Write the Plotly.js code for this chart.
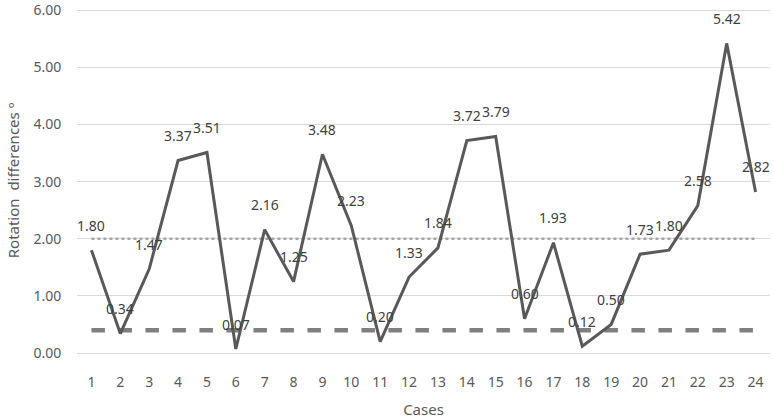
<!DOCTYPE html>
<html><head><meta charset="utf-8">
<script src="https://cdn.plot.ly/plotly-3.0.1.min.js"></script>
<style>html,body{margin:0;padding:0;background:#fff}#c{width:773px;height:420px}</style>
</head><body><div id="c"></div>
<script>
const cases = [1,2,3,4,5,6,7,8,9,10,11,12,13,14,15,16,17,18,19,20,21,22,23,24];
const rotationDiff = [1.80,0.34,1.47,3.37,3.51,0.07,2.16,1.25,3.48,2.23,0.20,1.33,1.84,3.72,3.79,0.60,1.93,0.12,0.50,1.73,1.80,2.58,5.42,2.82];
const upperRef = 2.0;
const lowerRef = 0.4;
const yTicks = [0,1,2,3,4,5,6];
const yTickText = ["0.00","1.00","2.00","3.00","4.00","5.00","6.00"];

const traces = [
  {x: cases, y: cases.map(()=>upperRef), mode:'lines', line:{color:'#a6a6a6', width:2.5, dash:'dot'}, hoverinfo:'skip'},
  {x: cases, y: cases.map(()=>lowerRef), mode:'lines', line:{color:'#808080', width:4.5, dash:'dash'}, hoverinfo:'skip'},
  {x: cases, y: rotationDiff, mode:'lines', line:{color:'#595959', width:3}}
];
const annotations = rotationDiff.map((v,i)=>({
  x: cases[i], y: v, text: v.toFixed(2), showarrow:false, yshift:25,
  font:{family:'Noto Sans, sans-serif', size:14, color:'#404040'}
}));
const layout = {
  width:773, height:420, showlegend:false,
  margin:{l:77, r:3, t:8, b:67},
  paper_bgcolor:'#fff', plot_bgcolor:'#fff',
  font:{family:'Noto Sans, sans-serif', color:'#595959', size:14},
  annotations: annotations,
  xaxis:{range:[0.5,24.5], tickvals:cases, ticktext:cases.map(String), showgrid:false, zeroline:false,
         showline:true, linecolor:'#d9d9d9', ticks:'outside', ticklen:16, tickcolor:'rgba(0,0,0,0)',
         tickfont:{size:14, color:'#595959'},
         title:{text:'Cases', font:{size:15, color:'#595959'}, standoff:14}},
  yaxis:{range:[0,6.04], tickvals:yTicks, ticktext:yTickText, showgrid:true, gridcolor:'#d9d9d9', zeroline:false,
         ticks:'outside', ticklen:12, tickcolor:'rgba(0,0,0,0)', tickfont:{size:14, color:'#595959'},
         ticklabeloverflow:'allow',
         title:{text:'Rotation  differences º', font:{size:15, color:'#595959'}, standoff:10}}
};
Plotly.newPlot('c', traces, layout, {displayModeBar:false, staticPlot:true});
</script></body></html>
